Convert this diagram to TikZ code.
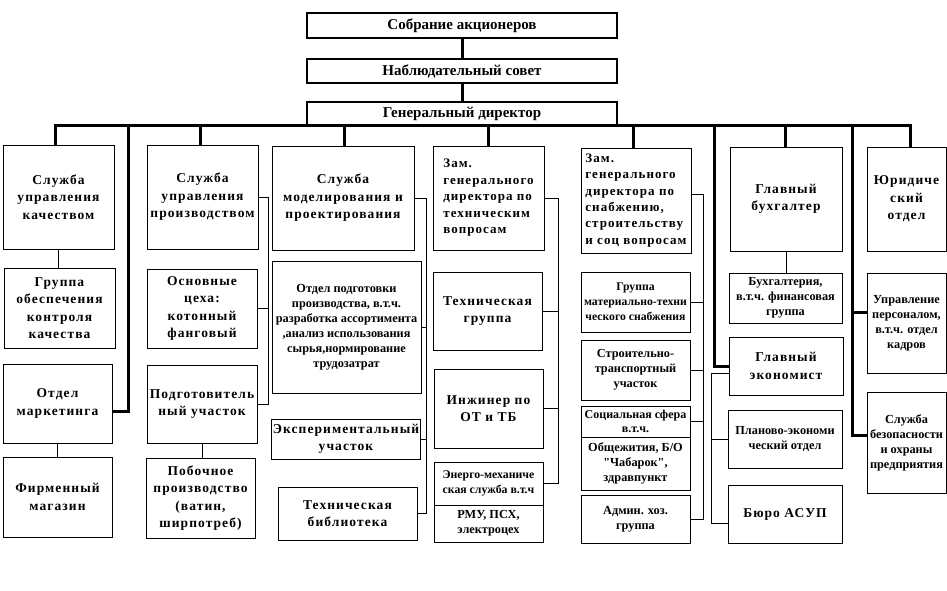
\documentclass[tikz,border=0pt]{standalone}
\usepackage{fontspec}
\setmainfont{Liberation Serif}
\newfontfamily\spaced[LetterSpace=8]{Liberation Serif}
\newfontfamily\plainfont{Liberation Serif}
\begin{document}
\begin{tikzpicture}[x=1pt,y=-1pt,
  bx/.style={draw, line width=0.9pt, inner sep=1pt, align=center},
  topbox/.style={draw, line width=2.6pt, inner sep=1pt, font=\bfseries\fontsize{15}{18}\selectfont},
  bigt/.style={font=\spaced\bfseries\fontsize{13.5}{17.5}\selectfont},
  midt/.style={font=\spaced\bfseries\fontsize{13}{16.5}\selectfont},
  smt/.style={font=\plainfont\bfseries\fontsize{12.3}{15}\selectfont},
  wh/.style 2 args={minimum width=#1pt, minimum height=#2pt},
  thk/.style={line width=3pt},
  thn/.style={line width=0.9pt}]
\path[fill=white] (0,0) rectangle (947,591);
\useasboundingbox (0,0) rectangle (947,591);

% top boxes
\node[topbox, wh={310}{25}] (sa) at (462,25.5) {Собрание акционеров};
\node[topbox, wh={310}{24}] (ns) at (462,71) {Наблюдательный совет};
\node[topbox, wh={310}{24}] (gd) at (462,114) {Генеральный директор};
\draw[thk] (sa.south) -- (ns.north);
\draw[thk] (ns.south) -- (gd.north);

% column 1
\node[bx,bigt,wh={111}{104}] (q1) at (58.5,197) {Служба\\управления\\качеством};
\node[bx,bigt,wh={111}{80}] (q2) at (59.5,308) {Группа\\обеспечения\\контроля\\качества};
\node[bx,bigt,wh={109}{79}] (mk) at (57.5,403.5) {Отдел\\маркетинга};
\node[bx,bigt,wh={109}{80}] (fm) at (57.5,497) {Фирменный\\магазин};

% column 2
\node[bx,bigt,wh={111}{104}] (p1) at (202.5,197) {Служба\\управления\\производством};
\node[bx,bigt,wh={110}{79}] (p2) at (202,308.5) {Основные\\цеха:\\котонный\\фанговый};
\node[bx,bigt,wh={110}{78}] (p3) at (202,404) {Подготовитель\\ный участок};
\node[bx,bigt,wh={109}{80}] (p4) at (200.5,498) {Побочное\\производство\\(ватин,\\ширпотреб)};

% column 3
\node[bx,bigt,wh={142}{104}] (m1) at (343,198) {Служба\\моделирования и\\проектирования};
\node[bx,smt,wh={149}{132}] (m2) at (346.5,327) {Отдел подготовки\\производства, в.т.ч.\\разработка ассортимента\\,анализ использования\\сырья,нормирование\\трудозатрат};
\node[bx,bigt,wh={148}{40}] (m3) at (346,439) {Экспериментальный\\участок};
\node[bx,bigt,wh={139}{53}] (m4) at (347.5,513.5) {Техническая\\библиотека};

% column 4
\node[bx,midt,align=left,wh={111}{104}] (t1) at (488.5,198) {Зам.\\генерального\\директора по\\техническим\\вопросам};
\node[bx,bigt,wh={109}{78}] (t2) at (487.5,311) {Техническая\\группа};
\node[bx,bigt,wh={109}{79}] (t3) at (488.5,408.5) {Инжинер по\\ОТ и ТБ};
\node[bx,smt,wh={109}{43},font=\plainfont\bfseries\fontsize{11.8}{15}\selectfont] (t4a) at (488.5,483.5) {Энерго-механиче\\ская служба в.т.ч};
\node[bx,smt,wh={109}{37}] (t4b) at (488.5,523.5) {РМУ, ПСХ,\\электроцех};

% column 5
\node[bx,midt,align=left,wh={110}{105},font=\spaced\bfseries\fontsize{13}{16.3}\selectfont] (s1) at (636,200.5) {Зам.\\генерального\\директора по\\снабжению,\\строительству\\и соц вопросам};
\node[bx,smt,wh={109}{60},font=\plainfont\bfseries\fontsize{11.7}{15}\selectfont] (s2) at (635.5,302) {Группа\\материально-техни\\ческого снабжения};
\node[bx,smt,wh={109}{60}] (s3) at (635.5,370) {Строительно-\\транспортный\\участок};
\node[bx,smt,wh={109}{31},inner sep=0pt,font=\plainfont\bfseries\fontsize{12}{13.5}\selectfont] (s4a) at (635.5,421.5) {Социальная сфера\\в.т.ч.};
\node[bx,smt,wh={109}{53}] (s4b) at (635.5,463.5) {Общежития, Б/О\\"Чабарок",\\здравпункт};
\node[bx,smt,wh={109}{48}] (s5) at (635.5,519) {Админ. хоз.\\группа};

% column 6
\node[bx,bigt,wh={112}{104}] (b1) at (786,199) {Главный\\бухгалтер};
\node[bx,smt,wh={113}{50}] (b2) at (785.5,298) {Бухгалтерия,\\в.т.ч. финансовая\\группа};
\node[bx,bigt,wh={114}{58}] (ge) at (786,366) {Главный\\экономист};
\node[bx,smt,wh={114}{58}] (pe) at (785,439) {Планово-экономи\\ческий отдел};
\node[bx,bigt,wh={114}{58}] (ba) at (785,514) {Бюро АСУП};

% column 7
\node[bx,bigt,wh={79}{104}] (j1) at (906.5,199) {Юридиче\\ский\\отдел};
\node[bx,smt,wh={79}{100}] (j2) at (906.5,323) {Управление\\персоналом,\\в.т.ч. отдел\\кадров};
\node[bx,smt,wh={79}{101}] (sb) at (906.5,442.5) {Служба\\безопасности\\и охраны\\предприятия};

% bus
\coordinate (busL) at (55,126);
\coordinate (busR) at (910,126);
\draw[thk] ([xshift=-1.5pt]busL) -- ([xshift=1.5pt]busR);
\coordinate (x1) at (55,126);
\coordinate (x2) at (128,126);
\coordinate (x3) at (200,126);
\coordinate (x4) at (344,126);
\coordinate (x5) at (488,126);
\coordinate (x6) at (633,126);
\coordinate (x7) at (714,126);
\coordinate (x8) at (785,126);
\coordinate (x9) at (852,126);
\coordinate (x10) at (910,126);
\draw[thk] (x1) -- (x1 |- q1.north);
\draw[thk] (x3) -- (x3 |- p1.north);
\draw[thk] (x4) -- (x4 |- m1.north);
\draw[thk] (x5) -- (x5 |- t1.north);
\draw[thk] (x6) -- (x6 |- s1.north);
\draw[thk] (x8) -- (x8 |- b1.north);
\draw[thk] (x10) -- (x10 |- j1.north);
\draw[thk] (x2) |- ([yshift=-7.5pt]mk.east);
\draw[thk] (x7) |- (ge.west);
\draw[thk] (x9) |- ([yshift=7.5pt]sb.west);
\draw[thk] (x9 |- j2.west) ++(0,-11) -- ([yshift=11pt]j2.west);

% column 1 links
\draw[thn] (q1.south) -- (q1.south |- q2.north);
\draw[thn] (mk.south) -- (mk.south |- fm.north);

% column 2 links
\coordinate (c2) at ([xshift=10pt]p1.east);
\draw[thn] (p1.east) -- (c2) |- (p3.east);
\draw[thn] (c2 |- p2.east) -- (p2.east);
\draw[thn] (p3.south) -- (p3.south |- p4.north);

% column 3 links
\coordinate (c3) at ([xshift=12pt]m1.east);
\draw[thn] (m1.east) -- (c3) |- (m4.east);
\draw[thn] (c3 |- m2.east) -- (m2.east);
\draw[thn] (c3 |- m3.east) -- (m3.east);

% column 4 links
\coordinate (c4) at ([xshift=14pt]t1.east);
\draw[thn] (t1.east) -- (c4) |- (t4a.east);
\draw[thn] (c4 |- t2.east) -- (t2.east);
\draw[thn] (c4 |- t3.east) -- (t3.east);

% column 5 links
\coordinate (c5) at ([xshift=12pt,yshift=6pt]s1.east);
\draw[thn] ([yshift=6pt]s1.east) -- (c5) |- (s5.east);
\draw[thn] (c5 |- s2.east) -- (s2.east);
\draw[thn] (c5 |- s3.east) -- (s3.east);
\draw[thn] (c5 |- s4a.east) -- (s4a.east);

% column 6 links
\draw[thn] (b1.south) -- (b1.south |- b2.north);
\coordinate (c6) at ([xshift=-17pt,yshift=-7pt]ge.west);
\draw[thn] ([yshift=-7pt]ge.west) -- (c6) |- ([yshift=-9pt]ba.west);
\draw[thn] (c6 |- pe.west) -- (pe.west);
\end{tikzpicture}
\end{document}
